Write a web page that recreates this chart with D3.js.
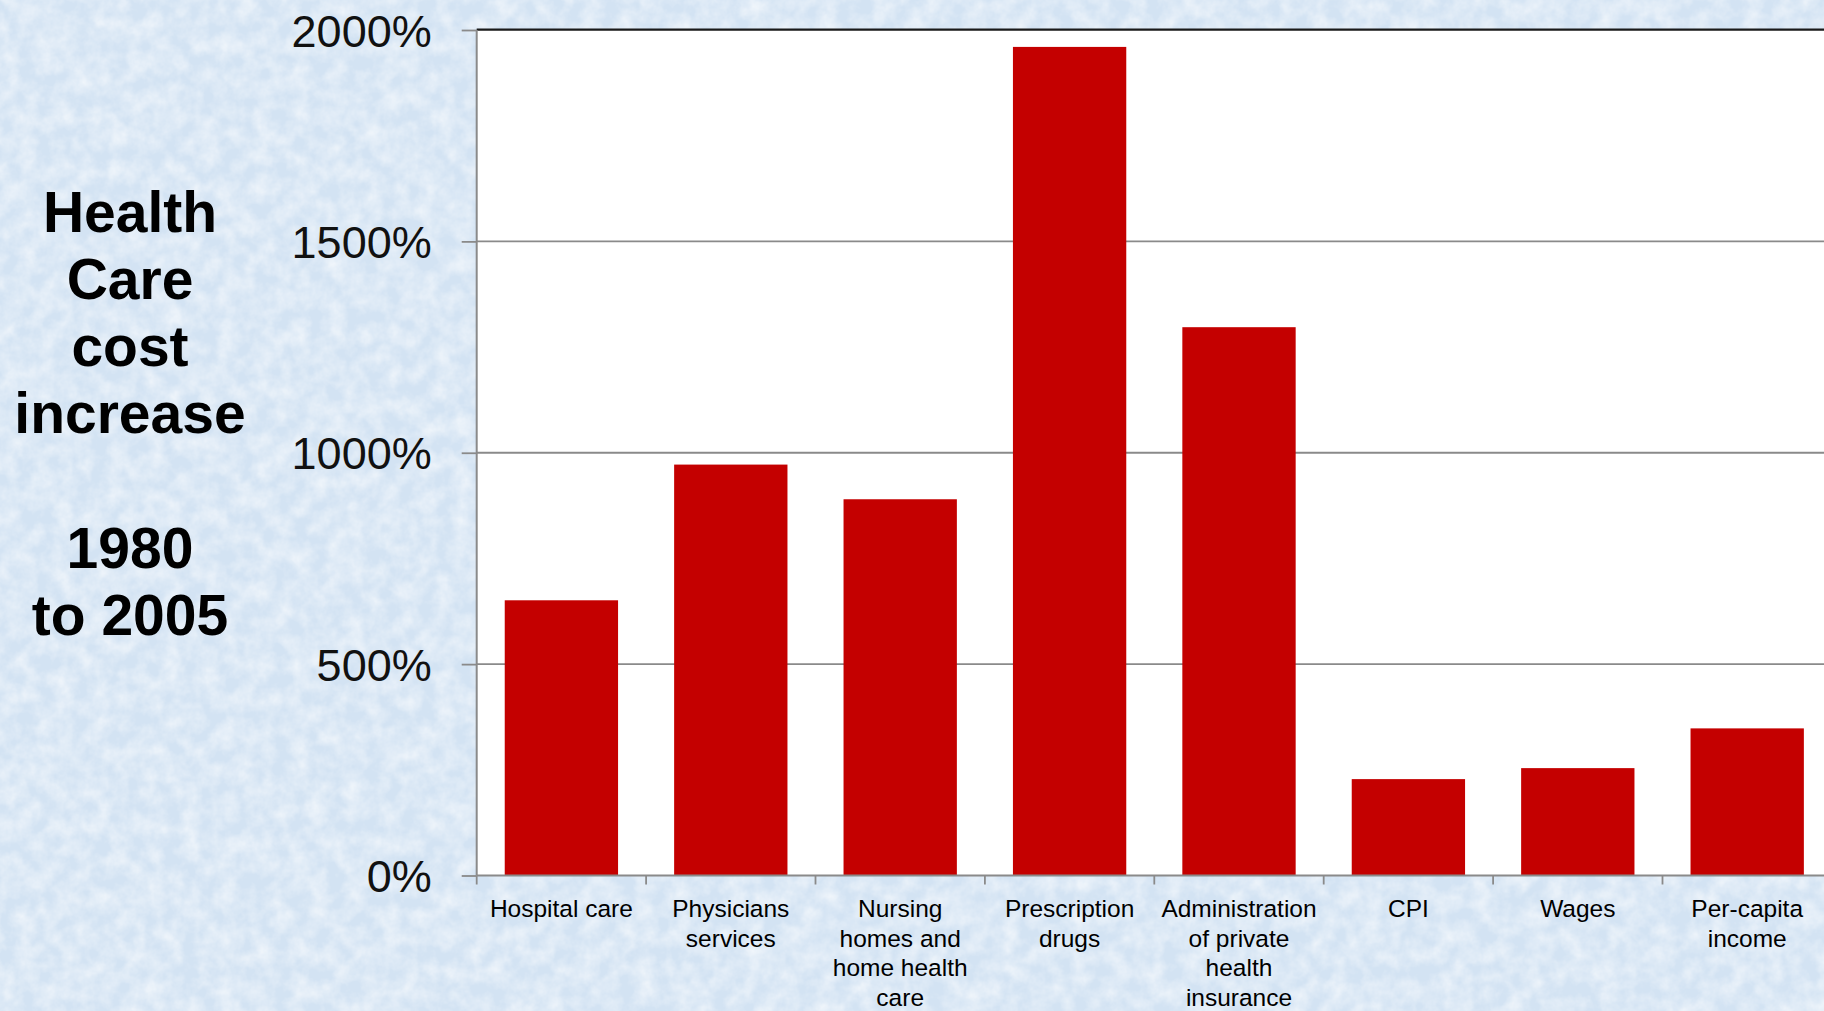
<!DOCTYPE html>
<html>
<head>
<meta charset="utf-8">
<script src="https://cdn.jsdelivr.net/npm/d3@7"></script>
<style>
    html, body { margin: 0; padding: 0; overflow: hidden; background: #dae7f4; }
    svg { display: block; }
</style>
</head>
<body>
<svg id="canvas"></svg>
<script>
// chart values
const categories = ["Hospital care", "Physicians services", "Nursing homes and home health care",
    "Prescription drugs", "Administration of private health insurance", "CPI", "Wages", "Per-capita income"];
const labelLines = [
    ["Hospital care"],
    ["Physicians", "services"],
    ["Nursing", "homes and", "home health", "care"],
    ["Prescription", "drugs"],
    ["Administration", "of private", "health", "insurance"],
    ["CPI"],
    ["Wages"],
    ["Per-capita", "income"]
];
const increase = [651, 972, 890, 1960, 1297, 228, 254, 348];
const yTicks = [0, 500, 1000, 1500, 2000];
const titleLines = ["Health", "Care", "cost", "increase", "", "1980", "to 2005"];

document.addEventListener("DOMContentLoaded", () => {
    const width = 1824, height = 1011;
    const left = 476.7, step = 169.4, top = 30, bottom = 875.5;

    const svg = d3.select("#canvas")
        .attr("width", width)
        .attr("height", height);

    // textured light blue background
    const defs = svg.append("defs");
    const filt = defs.append("filter").attr("id", "paper")
        .attr("x", 0).attr("y", 0).attr("width", "100%").attr("height", "100%");
    filt.append("feTurbulence")
        .attr("type", "fractalNoise")
        .attr("baseFrequency", 0.055)
        .attr("numOctaves", 4)
        .attr("seed", 7);
    filt.append("feColorMatrix")
        .attr("type", "matrix")
        .attr("values", "0 0 0 0 1  0 0 0 0 1  0 0 0 0 1  0 0 0 1.0 -0.3");

    svg.append("rect")
        .attr("width", width).attr("height", height)
        .attr("fill", "#d3e3f3");
    svg.append("rect")
        .attr("width", width).attr("height", height)
        .attr("filter", "url(#paper)");

    const x = d3.scaleBand()
        .domain(categories)
        .range([left, left + step * categories.length])
        .paddingInner(0.331)
        .paddingOuter(0.1655);

    const y = d3.scaleLinear()
        .domain([0, 2000])
        .range([bottom, top]);

    // plot area
    svg.append("rect")
        .attr("x", left).attr("y", y(2000))
        .attr("width", width - left).attr("height", y(0) - y(2000))
        .attr("fill", "#fff");

    // gridlines
    svg.append("g")
        .selectAll("line")
        .data(yTicks.filter(d => d > 0))
        .join("line")
        .attr("x1", left).attr("x2", width)
        .attr("y1", d => y(d)).attr("y2", d => y(d))
        .attr("stroke", "#8a8a8a")
        .attr("stroke-width", 1.8);

    // bars
    svg.append("g")
        .selectAll("rect")
        .data(increase)
        .join("rect")
        .attr("x", (d, i) => x(categories[i]))
        .attr("y", d => y(d))
        .attr("width", x.bandwidth())
        .attr("height", d => y(0) - y(d))
        .attr("fill", "#c40000");

    // top border
    svg.append("line")
        .attr("x1", left).attr("x2", width)
        .attr("y1", y(2000) - 0.5).attr("y2", y(2000) - 0.5)
        .attr("stroke", "#1a1a1a")
        .attr("stroke-width", 2);

    // y axis
    const yAxis = svg.append("g")
        .attr("transform", `translate(${left},0)`)
        .call(d3.axisLeft(y).tickValues(yTicks).tickSize(15).tickPadding(30).tickFormat(d => d + "%"));
    yAxis.select(".domain").attr("stroke", "#8a8a8a").attr("stroke-width", 2)
        .attr("d", `M0,${y(2000)}V${y(0)}`);
    yAxis.selectAll(".tick line").attr("stroke", "#8a8a8a").attr("stroke-width", 1.8);
    yAxis.selectAll(".tick text")
        .attr("font-family", "'Liberation Sans', Arial, sans-serif")
        .attr("font-size", 45)
        .attr("fill", "#111")
        .attr("dy", 16);

    // x axis line and ticks at band edges
    svg.append("line")
        .attr("x1", left).attr("x2", width)
        .attr("y1", y(0)).attr("y2", y(0))
        .attr("stroke", "#8a8a8a")
        .attr("stroke-width", 2);
    svg.append("g")
        .selectAll("line")
        .data(d3.range(categories.length + 1))
        .join("line")
        .attr("x1", i => left + i * x.step()).attr("x2", i => left + i * x.step())
        .attr("y1", y(0)).attr("y2", y(0) + 9)
        .attr("stroke", "#8a8a8a")
        .attr("stroke-width", 1.8);

    // category labels
    const lab = svg.append("g")
        .attr("font-family", "'Liberation Sans', Arial, sans-serif")
        .attr("font-size", 24.5)
        .attr("fill", "#000")
        .attr("text-anchor", "middle");
    lab.selectAll("text")
        .data(labelLines)
        .join("text")
        .attr("x", (d, i) => x(categories[i]) + x.bandwidth() / 2)
        .attr("y", 917)
        .selectAll("tspan")
        .data(d => d)
        .join("tspan")
        .attr("x", function () { return this.parentNode.getAttribute("x"); })
        .attr("dy", (d, i) => i === 0 ? 0 : 29.5)
        .text(d => d);

    // left title
    svg.append("g")
        .attr("font-family", "'Liberation Sans', Arial, sans-serif")
        .attr("font-weight", "bold")
        .attr("font-size", 57)
        .attr("fill", "#000")
        .attr("text-anchor", "middle")
        .selectAll("text")
        .data(titleLines)
        .join("text")
        .attr("x", 130)
        .attr("y", (d, i) => 231.7 + i * 67.2)
        .text(d => d);
});
</script>
</body>
</html>
